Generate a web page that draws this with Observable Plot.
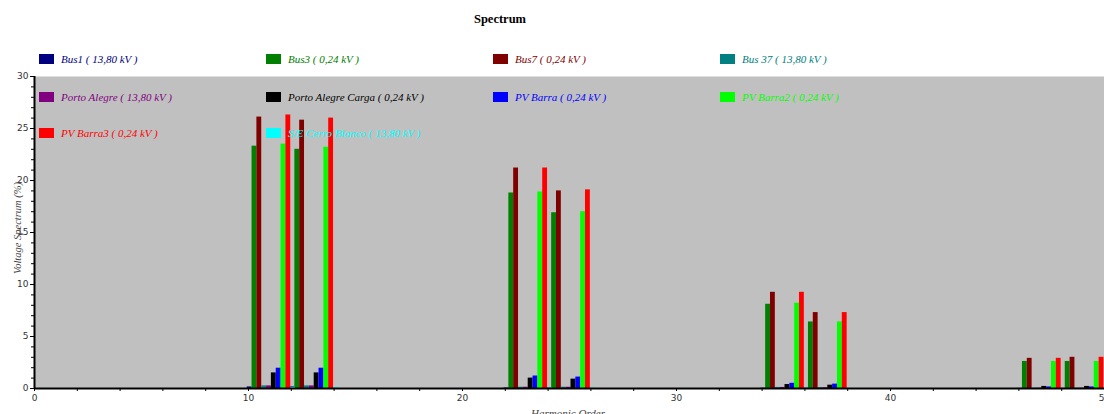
<!DOCTYPE html>
<html>
<head>
<meta charset="utf-8">
<script src="https://cdn.jsdelivr.net/npm/d3@7"></script>
<script src="https://cdn.jsdelivr.net/npm/@observablehq/plot@0.6"></script>
<style>
  html, body { margin: 0; padding: 0; background: #fff; overflow: hidden; }
  #wrap { position: relative; width: 1104px; height: 414px; overflow: hidden; }
  #chart { position: absolute; left: 0; top: 0; }
  .title { position: absolute; top: 12px; left: 500px; transform: translateX(-50%);
           font: bold 12.5px "Liberation Serif", serif; color: #000; white-space: nowrap; }
  .ylab { position: absolute; left: 17px; top: 228px; transform: translate(-50%, -50%) rotate(-90deg);
          font: italic 10.5px "Liberation Serif", serif; color: #444; white-space: nowrap; }
  .xlab { position: absolute; left: 568px; top: 407px; transform: translateX(-50%);
          font: italic 11px "Liberation Serif", serif; color: #444; white-space: nowrap; }
  .leg { position: absolute; display: flex; align-items: center; white-space: nowrap;
         font: italic 11px "Liberation Serif", serif; }
  .leg .sw { width: 15px; height: 10px; margin-right: 7px; flex: none; }
</style>
</head>
<body>
<div id="wrap">
  <div id="chart"></div>
</div>
<script>
// ---- data ----
const harmonics = [11, 13, 23, 25, 35, 37, 47, 49];
const seriesNames = [
  "Bus1 ( 13,80 kV )", "Bus3 ( 0,24 kV )", "Bus7 ( 0,24 kV )", "Bus 37 ( 13,80 kV )",
  "Porto Alegre ( 13,80 kV )", "Porto Alegre Carga ( 0,24 kV )", "PV Barra ( 0,24 kV )", "PV Barra2 ( 0,24 kV )",
  "PV Barra3 ( 0,24 kV )", "S/E Cerro Blanco ( 13,80 kV )"
];
const seriesColors = ["#000080", "#008000", "#800000", "#008080", "#800080", "#000000", "#0000ff", "#00ff00", "#ff0000", "#00ffff"];
const bus1           = [0.15, 0.15, 0.05, 0.05, 0.03, 0.03, 0.01, 0.01];
const bus3           = [23.3, 23.0, 18.8, 16.9, 8.1, 6.4, 2.6, 2.6];
const bus7           = [26.1, 25.8, 21.2, 19.0, 9.25, 7.3, 2.9, 3.0];
const bus37          = [0.25, 0.25, 0.12, 0.12, 0.1, 0.08, 0.03, 0.03];
const portoAlegre    = [0.25, 0.25, 0.12, 0.12, 0.1, 0.08, 0.03, 0.03];
const portoCarga     = [1.5, 1.5, 1.0, 0.9, 0.38, 0.32, 0.2, 0.2];
const pvBarra        = [1.95, 1.95, 1.2, 1.1, 0.5, 0.42, 0.15, 0.15];
const pvBarra2       = [23.5, 23.2, 18.9, 17.0, 8.2, 6.4, 2.6, 2.6];
const pvBarra3       = [26.3, 26.0, 21.2, 19.1, 9.25, 7.3, 2.9, 3.0];
const cerroBlanco    = [0.1, 0.1, 0.05, 0.05, 0.03, 0.03, 0.01, 0.01];
const seriesValues = [bus1, bus3, bus7, bus37, portoAlegre, portoCarga, pvBarra, pvBarra2, pvBarra3, cerroBlanco];
const yTicks = [0, 5, 10, 15, 20, 25, 30];
const xTicks = [0, 10, 20, 30, 40, 50];
const title = "Spectrum";
const yLabel = "Voltage Spectrum (%)";
const xLabel = "Harmonic Order";

// ---- build table ----
const rows = [];
seriesNames.forEach((name, i) => harmonics.forEach((h, j) => rows.push({name, i, h, v: seriesValues[i][j]})));
const BW = 0.226, OFF = 1.06;
const yMinor = d3.range(0, 31, 1);
const xMinor = d3.range(0, 51, 2);

const chart = Plot.plot({
  width: 1104, height: 424,
  marginTop: 76, marginBottom: 36, marginLeft: 34, marginRight: 0,
  style: {fontFamily: "DejaVu Sans, sans-serif", fontSize: "9px", background: "transparent"},
  x: {domain: [0, 50]},
  y: {domain: [0, 30]},
  color: {domain: seriesNames, range: seriesColors},
  marks: [
    Plot.frame({fill: "#c0c0c0", stroke: null}),
    Plot.rectY(rows, {
      x1: d => d.h - OFF + d.i * BW,
      x2: d => d.h - OFF + (d.i + 1) * BW,
      y1: 0, y2: "v", fill: "name", inset: 0
    }),
    Plot.axisY(yMinor, {tickSize: 3, tickFormat: () => "", label: null, stroke: "#000"}),
    Plot.axisY(yTicks, {tickSize: 4, tickPadding: 2, label: null, stroke: "#000", fill: "#333"}),
    Plot.axisX(xMinor, {tickSize: 3, tickFormat: () => "", label: null, stroke: "#000"}),
    Plot.axisX(xTicks, {tickSize: 3, tickPadding: 3, label: null, stroke: "#000", fill: "#333"}),
    Plot.ruleX([0], {stroke: "#000", strokeWidth: 2}),
    Plot.ruleY([0], {stroke: "#000", strokeWidth: 2})
  ]
});
const wrap = document.getElementById("wrap");
document.getElementById("chart").appendChild(chart);

function addDiv(cls, text, css) {
  const d = document.createElement("div");
  d.className = cls; d.textContent = text;
  if (css) Object.assign(d.style, css);
  wrap.appendChild(d);
  return d;
}
addDiv("title", title);
addDiv("ylab", yLabel);
addDiv("xlab", xLabel);

// legend: 4 columns, 3 rows
const colX = [39, 266, 493, 720];
const rowY = [58.7, 96.5, 133.3];
seriesNames.forEach((name, i) => {
  const c = i % 4, r = Math.floor(i / 4);
  const d = document.createElement("div");
  d.className = "leg";
  d.style.left = colX[c] + "px";
  d.style.top = (rowY[r] - 8) + "px";
  d.style.height = "16px";
  d.style.color = seriesColors[i];
  const sw = document.createElement("span");
  sw.className = "sw"; sw.style.background = seriesColors[i];
  const t = document.createElement("span");
  t.textContent = name;
  d.appendChild(sw); d.appendChild(t);
  wrap.appendChild(d);
});
</script>
</body>
</html>
